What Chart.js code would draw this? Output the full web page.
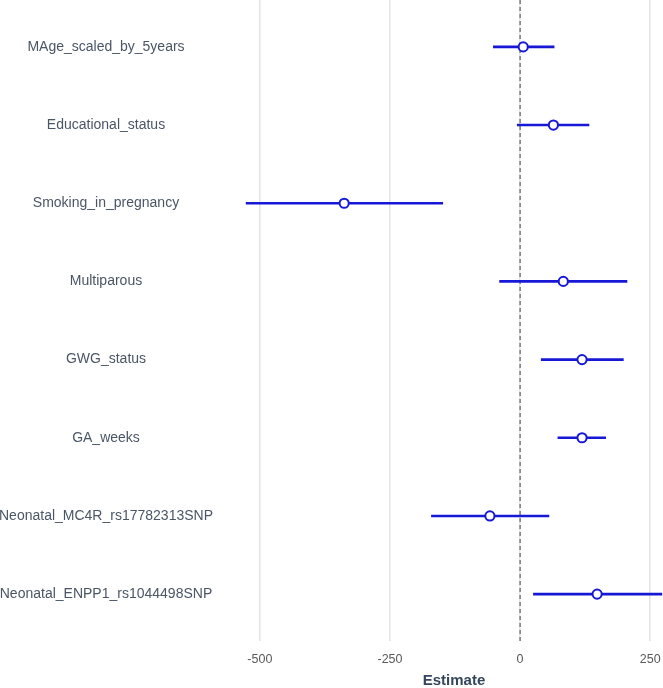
<!DOCTYPE html>
<html><head><meta charset="utf-8">
<script src="https://cdn.jsdelivr.net/npm/chart.js@4/dist/chart.umd.min.js"></script>
<style>html,body{margin:0;padding:0;overflow:hidden;background:#fff}#wrap{width:683px;height:688px;position:relative}</style>
</head><body><div id="wrap"><canvas id="c"></canvas></div>
<script>
const categories = ["MAge_scaled_by_5years","Educational_status","Smoking_in_pregnancy","Multiparous","GWG_status","GA_weeks","Neonatal_MC4R_rs17782313SNP","Neonatal_ENPP1_rs1044498SNP"];
const estimates = [6, 64, -338, 83, 119, 119, -58, 148];
const lowerCI = [-52, -6, -527, -40, 40, 72, -171, 25];
const upperCI = [66, 133, -148, 206, 199, 165, 56, 273];
const xTicks = [-500, -250, 0, 250];
const blue = '#1717d6';

const ciDatasets = categories.map((c, i) => ({
  type: 'line', label: c,
  data: [{x: lowerCI[i], y: i}, {x: upperCI[i], y: i}],
  borderColor: blue, borderWidth: 2.6, pointRadius: 0, showLine: true, order: 2
}));
const pointDataset = {
  type: 'scatter', label: 'Estimate',
  data: estimates.map((v, i) => ({x: v, y: i})),
  pointRadius: 4.6, pointBorderWidth: 2, pointBackgroundColor: '#fff', pointBorderColor: blue, order: 0
};

const zeroLine = {
  id: 'zeroLine',
  beforeDatasetsDraw(chart) {
    const {ctx, chartArea, scales} = chart;
    const x = scales.x.getPixelForValue(0);
    ctx.save();
    ctx.strokeStyle = '#555';
    ctx.lineWidth = 1.1;
    ctx.setLineDash([4, 3]);
    ctx.beginPath();
    ctx.moveTo(x, chartArea.top);
    ctx.lineTo(x, chartArea.bottom);
    ctx.stroke();
    ctx.restore();
  }
};

new Chart(document.getElementById('c'), {
  type: 'scatter',
  data: {datasets: [pointDataset, ...ciDatasets]},
  options: {
    responsive: true, maintainAspectRatio: false, animation: false,
    layout: {padding: 0, autoPadding: false},
    plugins: {legend: {display: false}, tooltip: {enabled: false}},
    scales: {
      x: {
        type: 'linear', min: -567, max: 313,
        afterBuildTicks: s => { s.ticks = xTicks.map(v => ({value: v})); },
        afterFit: s => { s.height = 47; s.paddingLeft = 0; s.paddingRight = 0; },
        grid: {color: '#e4e4e4', lineWidth: 1.5, drawTicks: false},
        border: {display: false},
        ticks: {color: '#595959', font: {family: 'Liberation Sans, Arial, sans-serif', size: 12.5}, padding: 11, maxRotation: 0},
        title: {display: true, text: 'Estimate', color: '#34465c', font: {family: 'Liberation Sans, Arial, sans-serif', size: 15, weight: 'bold', lineHeight: 1.0}, padding: {top: 0, bottom: 0}}
      },
      y: {
        type: 'linear', reverse: true, min: -0.6, max: 7.6,
        afterBuildTicks: s => { s.ticks = categories.map((c, i) => ({value: i})); },
        afterFit: s => { s.width = 225; s.paddingTop = 0; s.paddingBottom = 0; },
        grid: {display: false, drawTicks: false},
        border: {display: false},
        ticks: {
          color: '#4a5666', crossAlign: 'center', padding: 12,
          font: {family: 'Liberation Sans, Arial, sans-serif', size: 14},
          callback: v => categories[v]
        }
      }
    }
  },
  plugins: [zeroLine]
});
</script></body></html>
